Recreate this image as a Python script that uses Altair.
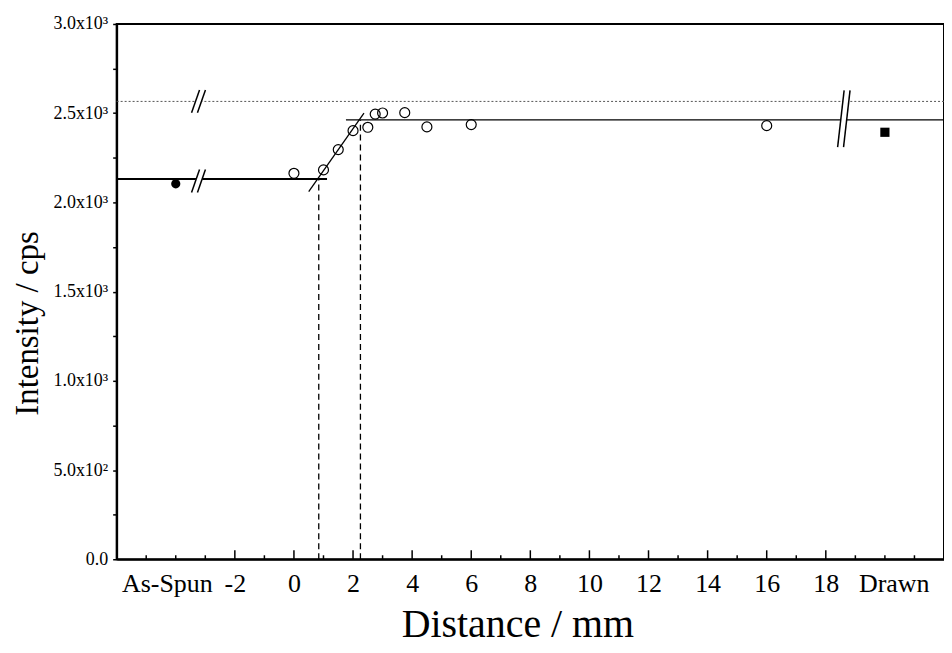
import altair as alt
import pandas as pd

# ---------------- data ----------------
distance = [0, 1, 1.5, 2, 2.5, 2.75, 3, 3.75, 4.5, 6, 16]
intensity = [2163, 2182, 2296, 2402, 2421, 2495, 2501, 2503, 2423, 2436, 2430]

as_spun_x = [-4]
as_spun_y = [2104]
drawn_x = [20]
drawn_y = [2393]

fit_x = [-6, 1.76, 0.5]
fit_x2 = [1.12, 22, 2.37]
fit_y = [2131, 2462, 2060]
fit_y2 = [2131, 2462, 2500]
fit_w = [2.0, 1.3, 1.3]

dotted_x = [-6]
dotted_x2 = [22]
dotted_y = [2566]

dash_x = [0.84, 2.25]
dash_top = [2131, 2462]

brk_cx = [-3.23, -3.23, 18.61]
brk_cy = [2566, 2120, 2469]
brk_hh = [64, 64, 159]
brk_sl = [0.135, 0.135, 0.11]
brk_gap = [0.1, 0.1, 0.1]

x_major = [-2, 0, 2, 4, 6, 8, 10, 12, 14, 16, 18]
x_minor = [-5, -4, -3, -1, 1, 3, 5, 7, 9, 11, 13, 15, 17, 19, 20, 21]
x_label_vals = [-4.3] + x_major + [20.3]
y_tick_vals = [0, 250, 500, 750, 1000, 1250, 1500, 1750, 2000, 2250, 2500, 2750, 3000]

W, H = 830, 537
FONT = "Liberation Serif"

xscale = alt.Scale(domain=[-6, 22], nice=False, zero=False)
yscale = alt.Scale(domain=[0, 3000], nice=False, zero=False)

xaxis = alt.Axis(
    values=x_label_vals,
    labelExpr="datum.value < -3 ? 'As-Spun' : (datum.value > 19 ? 'Drawn' : '' + datum.value)",
    ticks=False, tickSize=0, labelPadding=11,
    labelFont=FONT, labelFontSize=26, labelColor="black",
    labelOverlap=False, labelFlush=False,
    domainColor="black", domainWidth=2, grid=False,
    title="Distance / mm", titleFont=FONT, titleFontSize=40,
    titleFontWeight="normal", titleColor="black",
    titleX=402, titleY=77, titleBaseline="alphabetic", titleAlign="center",
)
yaxis = alt.Axis(
    values=y_tick_vals,
    labelExpr="datum.value % 500 != 0 ? '' : (datum.value == 0 ? '0.0' : (datum.value == 500 ? '5.0x10\u00b2' : format(datum.value / 1000, '.1f') + 'x10\u00b3'))",
    tickSize=4, tickColor="black", tickWidth=1.5, labelPadding=5,
    labelFont=FONT, labelFontSize=18, labelColor="black",
    domainColor="black", domainWidth=2, grid=False,
    title="Intensity / cps", titleFont=FONT, titleFontSize=33,
    titleFontWeight="normal", titleColor="black",
    titleAngle=270, titleX=-79, titleY=300, titleBaseline="alphabetic",
    titleAlign="center",
)


def X(field):
    return alt.X(field, type="quantitative", scale=xscale, axis=xaxis, title="Distance / mm")


def Y(field):
    return alt.Y(field, type="quantitative", scale=yscale, axis=yaxis, title="Intensity / cps")


pts = pd.DataFrame({"x": distance, "y": intensity})
asp = pd.DataFrame({"x": as_spun_x, "y": as_spun_y})
drw = pd.DataFrame({"x": drawn_x, "y": drawn_y})
fits = pd.DataFrame({"x": fit_x, "x2": fit_x2, "y": fit_y, "y2": fit_y2, "w": fit_w})
dots = pd.DataFrame({"x": dotted_x, "x2": dotted_x2, "y": dotted_y})
dash = pd.DataFrame({"x": dash_x, "y": [0] * len(dash_x), "y2": dash_top})

brk_white = []
brk_black = []
for cx, cy, hh, sl, g in zip(brk_cx, brk_cy, brk_hh, brk_sl, brk_gap):
    brk_white.append({"x": cx - sl, "x2": cx + sl, "y": cy - hh * 0.95, "y2": cy + hh * 0.95})
    for s in (-g, g):
        brk_black.append({"x": cx + s - sl, "x2": cx + s + sl, "y": cy - hh, "y2": cy + hh})
bw = pd.DataFrame(brk_white)
bb = pd.DataFrame(brk_black)

ticks_major = pd.DataFrame({"x": x_major})
ticks_minor = pd.DataFrame({"x": x_minor})

dotted_layer = alt.Chart(dots).mark_rule(color="#555555", strokeWidth=1, strokeDash=[2, 2]).encode(
    x=X("x"), x2="x2", y=Y("y")
)
fit_layer = alt.Chart(fits).mark_rule(color="black").encode(
    x=X("x"), x2="x2", y=Y("y"), y2="y2",
    strokeWidth=alt.StrokeWidth("w:Q", scale=None, legend=None),
)
dash_layer = alt.Chart(dash).mark_rule(color="black", strokeWidth=1.3, strokeDash=[6, 4]).encode(
    x=X("x"), y=Y("y"), y2="y2"
)
bw_layer = alt.Chart(bw).mark_rule(color="white", strokeWidth=6).encode(
    x=X("x"), x2="x2", y=Y("y"), y2="y2"
)
bb_layer = alt.Chart(bb).mark_rule(color="black", strokeWidth=1.5).encode(
    x=X("x"), x2="x2", y=Y("y"), y2="y2"
)
pts_layer = alt.Chart(pts).mark_point(shape="circle", filled=False, color="black", strokeWidth=1.2, size=100, opacity=1).encode(
    x=X("x"), y=Y("y")
)
asp_layer = alt.Chart(asp).mark_point(shape="circle", filled=True, color="black", size=85, opacity=1).encode(
    x=X("x"), y=Y("y")
)
drw_layer = alt.Chart(drw).mark_point(shape="square", filled=True, color="black", size=85, opacity=1).encode(
    x=X("x"), y=Y("y")
)
tmaj_layer = alt.Chart(ticks_major).mark_rule(color="black", strokeWidth=1.5).encode(
    x=X("x"), y=alt.value(H), y2=alt.value(H - 9)
)
tmin_layer = alt.Chart(ticks_minor).mark_rule(color="black", strokeWidth=1.5).encode(
    x=X("x"), y=alt.value(H), y2=alt.value(H - 4)
)

chart = alt.layer(
    dotted_layer, fit_layer, dash_layer, bw_layer, bb_layer,
    pts_layer, asp_layer, drw_layer, tmaj_layer, tmin_layer,
).properties(
    width=W, height=H,
    autosize=alt.AutoSizeParams(type="none"),
    padding={"left": 109, "top": 15, "right": 0, "bottom": 85},
    background="white",
).configure_view(stroke="black", strokeWidth=2)

chart.save("out.html", embed_options={"renderer": "svg", "actions": False})
